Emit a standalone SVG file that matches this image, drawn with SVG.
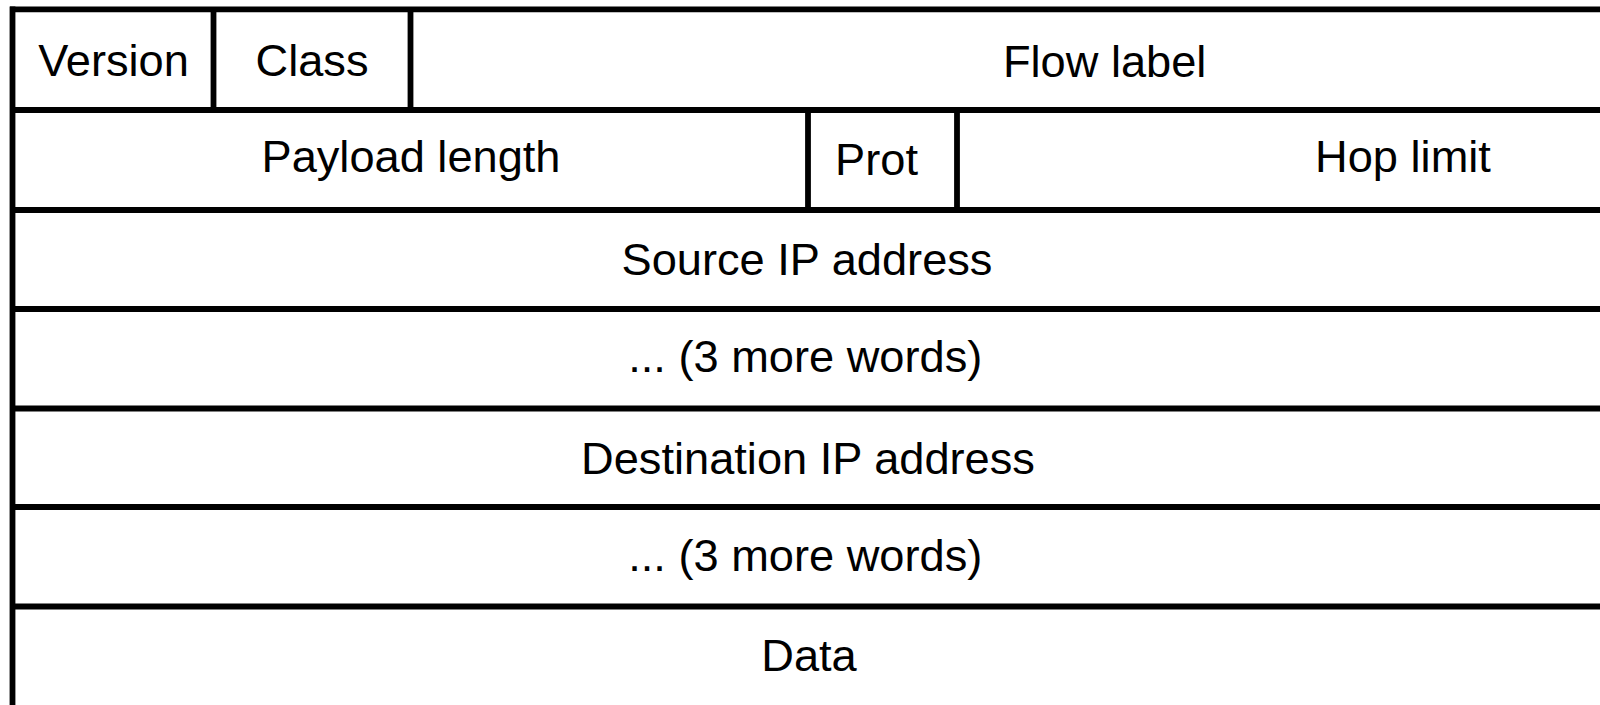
<svg xmlns="http://www.w3.org/2000/svg" width="1600" height="705" viewBox="0 0 1600 705">
<style>
.ln{stroke:#000;stroke-width:5.8;fill:none}
.t{font-family:"Liberation Sans",Arial,sans-serif;font-size:45.2px;fill:#000;text-anchor:middle}
</style>
<rect width="1600" height="705" fill="#fff"/>
<g id="connectors">
<line class="ln" x1="10" y1="9.3" x2="1600" y2="9.3"/>
<line class="ln" x1="10" y1="110" x2="1600" y2="110"/>
<line class="ln" x1="10" y1="210" x2="1600" y2="210"/>
<line class="ln" x1="10" y1="309" x2="1600" y2="309"/>
<line class="ln" x1="10" y1="408.5" x2="1600" y2="408.5"/>
<line class="ln" x1="10" y1="507" x2="1600" y2="507"/>
<line class="ln" x1="10" y1="606.5" x2="1600" y2="606.5"/>
<line class="ln" x1="12.5" y1="6.4" x2="12.5" y2="705"/>
<line class="ln" x1="213.5" y1="9" x2="213.5" y2="110"/>
<line class="ln" x1="410.5" y1="9" x2="410.5" y2="110"/>
<line class="ln" x1="808" y1="110" x2="808" y2="210"/>
<line class="ln" x1="957" y1="110" x2="957" y2="210"/>
</g>
<g id="version"><text class="t" x="113.5" y="76">Version</text></g>
<g id="class"><text class="t" x="312" y="76">Class</text></g>
<g id="flow-label"><text class="t" x="1104.7" y="76.5">Flow label</text></g>
<g id="payload-length"><text class="t" x="411" y="172">Payload length</text></g>
<g id="prot"><text class="t" x="876.5" y="175">Prot</text></g>
<g id="hop-limit"><text class="t" x="1403" y="172">Hop limit</text></g>
<g id="source-ip"><text class="t" x="807" y="275">Source IP address</text></g>
<g id="source-more"><text class="t" x="805.3" y="372">... (3 more words)</text></g>
<g id="dest-ip"><text class="t" x="808" y="473.5">Destination IP address</text></g>
<g id="dest-more"><text class="t" x="805.3" y="571">... (3 more words)</text></g>
<g id="data"><text class="t" x="809" y="671">Data</text></g>
</svg>
